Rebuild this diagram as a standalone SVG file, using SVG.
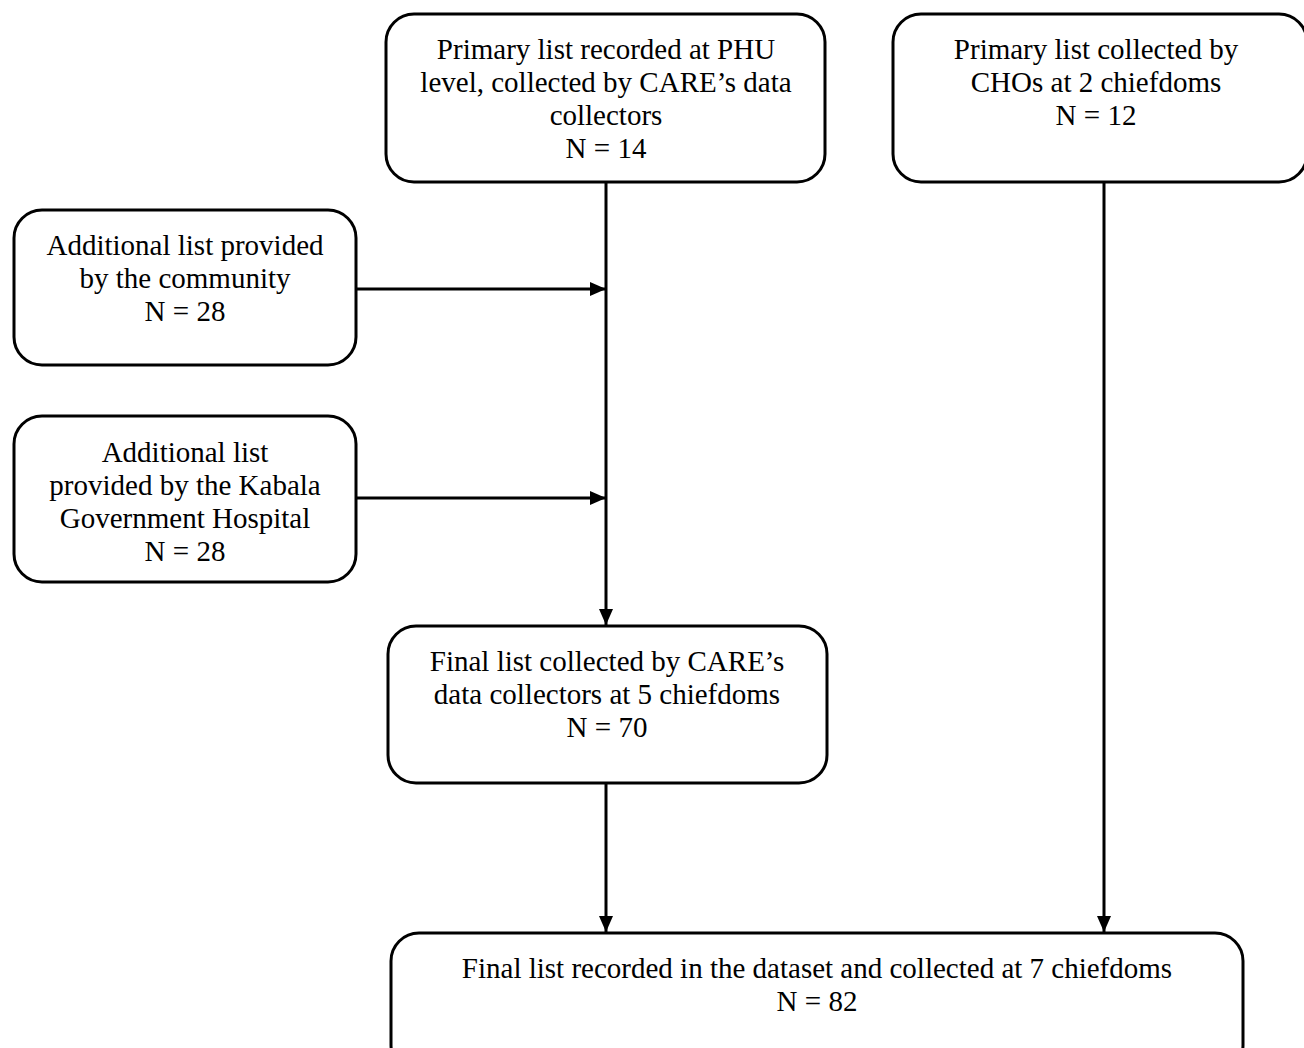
<svg xmlns="http://www.w3.org/2000/svg" width="1304" height="1048" viewBox="0 0 1304 1048">
<defs>
<marker id="ah" markerUnits="userSpaceOnUse" markerWidth="16" markerHeight="16" viewBox="0 0 16 16" refX="16" refY="8" orient="auto">
<path d="M0,1 L16,8 L0,15 Z" fill="#000"/>
</marker>
</defs>
<style>
.box{fill:#fff;stroke:#000;stroke-width:3}
.t{font-family:"Liberation Serif","Times New Roman",serif;font-size:29px;fill:#000;text-anchor:middle}
.c{stroke:#000;stroke-width:3;fill:none}
</style>
<rect width="1304" height="1048" fill="#fff"/>
<g id="connectors">
<path class="c" d="M606,182 V625" marker-end="url(#ah)"/>
<path class="c" d="M356,289 H606" marker-end="url(#ah)"/>
<path class="c" d="M356,498 H606" marker-end="url(#ah)"/>
<path class="c" d="M606,783 V932" marker-end="url(#ah)"/>
<path class="c" d="M1104,182 V932" marker-end="url(#ah)"/>
</g>
<g id="n1">
<rect class="box" x="386" y="14" width="439" height="168" rx="28"/>
<text class="t" x="606" y="59">Primary list recorded at PHU</text>
<text class="t" x="606" y="92">level, collected by CARE’s data</text>
<text class="t" x="606" y="125">collectors</text>
<text class="t" x="606" y="158">N = 14</text>
</g>
<g id="n2">
<rect class="box" x="893" y="14" width="414" height="168" rx="28"/>
<text class="t" x="1096" y="59">Primary list collected by</text>
<text class="t" x="1096" y="92">CHOs at 2 chiefdoms</text>
<text class="t" x="1096" y="125">N = 12</text>
</g>
<g id="n3">
<rect class="box" x="14" y="210" width="342" height="155" rx="28"/>
<text class="t" x="185" y="255">Additional list provided</text>
<text class="t" x="185" y="288">by the community</text>
<text class="t" x="185" y="321">N = 28</text>
</g>
<g id="n4">
<rect class="box" x="14" y="416" width="342" height="166" rx="28"/>
<text class="t" x="185" y="462">Additional list</text>
<text class="t" x="185" y="495">provided by the Kabala</text>
<text class="t" x="185" y="528">Government Hospital</text>
<text class="t" x="185" y="561">N = 28</text>
</g>
<g id="n5">
<rect class="box" x="388" y="626" width="439" height="157" rx="28"/>
<text class="t" x="607" y="671">Final list collected by CARE’s</text>
<text class="t" x="607" y="704">data collectors at 5 chiefdoms</text>
<text class="t" x="607" y="737">N = 70</text>
</g>
<g id="n6">
<rect class="box" x="391" y="933" width="852" height="140" rx="28"/>
<text class="t" x="817" y="978">Final list recorded in the dataset and collected at 7 chiefdoms</text>
<text class="t" x="817" y="1011">N = 82</text>
</g>
</svg>
